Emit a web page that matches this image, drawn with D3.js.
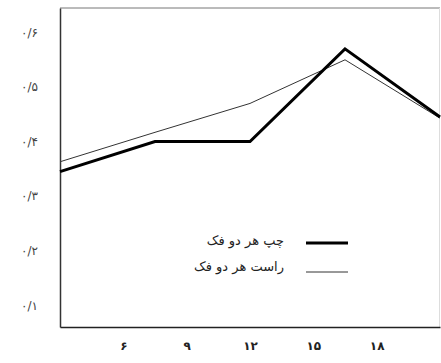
<!DOCTYPE html>
<html>
<head>
<meta charset="utf-8">
<script src="https://cdnjs.cloudflare.com/ajax/libs/d3/7.8.5/d3.min.js"></script>
<style>
  html, body { margin: 0; padding: 0; background: #fff; }
  svg { display: block; }
</style>
</head>
<body>
<script>
// Measurement positions (hours) and the two series
const positions = [3, 7.5, 12, 16.5, 21];
const leftBoth = [0.345, 0.40, 0.40, 0.57, 0.445];
const rightBoth = [0.363, 0.417, 0.47, 0.55, 0.443];
const seriesNames = ["چپ هر دو فک", "راست هر دو فک"];
const xTicks = [6, 9, 12, 15, 18];
const yTicks = [0.1, 0.2, 0.3, 0.4, 0.5, 0.6];

const W = 441, H = 363;
const margin = { left: 60, right: 1, top: 8, bottom: 36 };

const svg = d3.select("body").append("svg").attr("width", W).attr("height", H);

const x = d3.scaleLinear().domain([3, 21]).range([margin.left, W - margin.right]);
const y = d3.scaleLinear().domain([0.06, 0.645]).range([H - margin.bottom, margin.top]);

const fa = s => String(s).replace(/\d/g, d => "۰۱۲۳۴۵۶۷۸۹"[+d]);
const faDec = v => fa(v.toFixed(1)).replace(".", "/");

// frame
const x0 = x.range()[0], x1 = x.range()[1], yTop = y.range()[1], yBot = y.range()[0];
svg.append("line").attr("x1", x0).attr("x2", x1).attr("y1", yTop).attr("y2", yTop)
  .attr("stroke", "#777").attr("stroke-width", 1);
svg.append("line").attr("x1", x1 - 0.5).attr("x2", x1 - 0.5).attr("y1", yTop).attr("y2", yBot)
  .attr("stroke", "#ddd").attr("stroke-width", 1);

// y axis
const yAxis = svg.append("g").attr("transform", `translate(${x0},0)`)
  .call(d3.axisLeft(y).tickValues(yTicks).tickSize(0).tickPadding(22).tickFormat(faDec));
yAxis.select(".domain").attr("stroke", "#333").attr("stroke-width", 1.5);
yAxis.selectAll("text").attr("font-family", "DejaVu Sans, sans-serif").attr("font-size", 12)
  .attr("fill", "#444");

// x axis
const xAxis = svg.append("g").attr("transform", `translate(0,${yBot})`)
  .call(d3.axisBottom(x).tickValues(xTicks).tickSize(0).tickPadding(14).tickFormat(fa));
xAxis.select(".domain").attr("stroke", "#222").attr("stroke-width", 1.5);
xAxis.selectAll("text").attr("font-family", "DejaVu Sans, sans-serif").attr("font-size", 12)
  .attr("font-weight", "bold").attr("fill", "#222");

const line = d3.line().x((d, i) => x(positions[i])).y(d => y(d));

svg.append("path").datum(rightBoth).attr("d", line)
  .attr("fill", "none").attr("stroke", "#333").attr("stroke-width", 1);
svg.append("path").datum(leftBoth).attr("d", line)
  .attr("fill", "none").attr("stroke", "#000").attr("stroke-width", 3)
  .attr("stroke-linejoin", "miter");

// legend
const legend = svg.append("g");
const styles = [{ w: 3, c: "#000", ly: 243, ty: 241 }, { w: 1, c: "#333", ly: 272, ty: 267 }];
seriesNames.forEach((name, i) => {
  legend.append("line").attr("x1", 306).attr("x2", 348)
    .attr("y1", styles[i].ly).attr("y2", styles[i].ly)
    .attr("stroke", styles[i].c).attr("stroke-width", styles[i].w);
  legend.append("text").attr("x", 284).attr("y", styles[i].ty)
    .attr("text-anchor", "end").attr("dominant-baseline", "middle")
    .attr("font-family", "DejaVu Sans, sans-serif").attr("font-size", 13)
    .attr("fill", "#222").text(name);
});
</script>
</body>
</html>
